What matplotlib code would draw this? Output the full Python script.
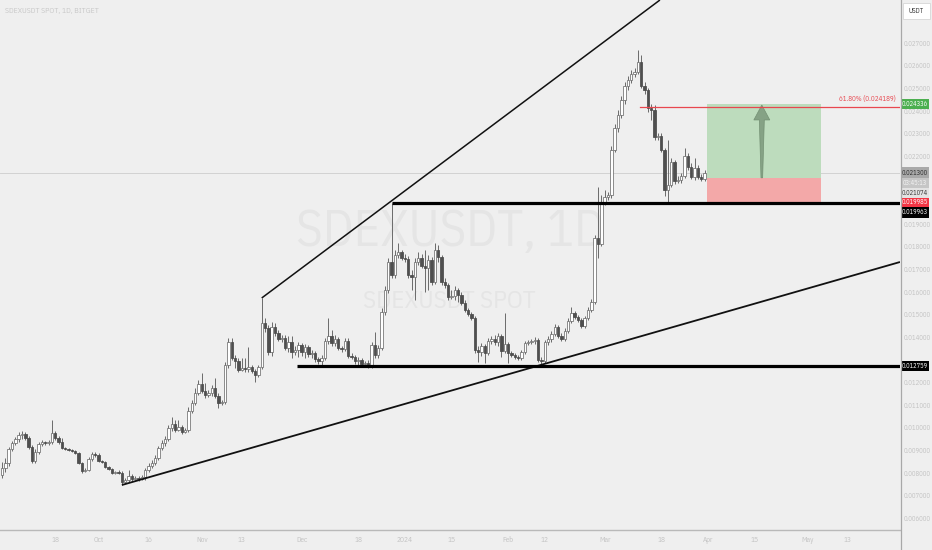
import matplotlib
matplotlib.use("Agg")
import matplotlib.pyplot as plt
import matplotlib.transforms as mtransforms
from matplotlib.patches import Rectangle, Polygon
from matplotlib.lines import Line2D

# ---------------------------------------------------------------- data
# SDEXUSDT daily candles, 2023-09-02 .. 2024-03-31 (prices in USDT)
first_open = 0.007942
close = [
    0.008251, 0.008472, 0.009091, 0.009356, 0.009533, 0.009710, 0.009754, 0.009577, 0.009180, 0.008561,
    0.008959, 0.009312, 0.009401, 0.009356, 0.009401, 0.009798, 0.009577, 0.009401, 0.009135, 0.009091,
    0.009047, 0.009003, 0.008914, 0.008472, 0.008119, 0.008163, 0.008649, 0.008870, 0.008826, 0.008561,
    0.008517, 0.008296, 0.008207, 0.008030, 0.008075, 0.008030, 0.007633, 0.007721, 0.007898, 0.007765,
    0.007809, 0.007765, 0.007854, 0.008163, 0.008340, 0.008472, 0.008693, 0.009135, 0.009356, 0.009533,
    0.010018, 0.010195, 0.009931, 0.010063, 0.009843, 0.009931, 0.010770, 0.011123, 0.011565, 0.011963,
    0.011654, 0.011477, 0.011565, 0.011786, 0.011433, 0.011123, 0.011168, 0.012803, 0.013819, 0.013112,
    0.012980, 0.012582, 0.012670, 0.012626, 0.012714, 0.012538, 0.012361, 0.012714, 0.014658, 0.014437,
    0.013378, 0.014482, 0.014216, 0.013951, 0.013995, 0.013553, 0.013819, 0.013378, 0.013466, 0.013686,
    0.013378, 0.013598, 0.013289, 0.013333, 0.013068, 0.012980, 0.013112, 0.013863, 0.014084, 0.013774,
    0.013951, 0.013553, 0.013510, 0.013863, 0.013201, 0.013157, 0.012980, 0.013024, 0.012847, 0.012891,
    0.012759, 0.013686, 0.013245, 0.013553, 0.015145, 0.016117, 0.017354, 0.016780, 0.017663, 0.017796,
    0.017530, 0.017486, 0.016780, 0.016692, 0.017354, 0.017530, 0.017177, 0.017088, 0.017442, 0.016471,
    0.017884, 0.017574, 0.016471, 0.016338, 0.015808, 0.015852, 0.016117, 0.015896, 0.015542, 0.015233,
    0.015056, 0.014879, 0.013466, 0.013378, 0.013642, 0.013333, 0.013863, 0.013951, 0.013819, 0.014084,
    0.013422, 0.013730, 0.013333, 0.013245, 0.013157, 0.013112, 0.013378, 0.013774, 0.013819, 0.013863,
    0.013907, 0.013024, 0.012980, 0.013819, 0.013951, 0.014172, 0.014482, 0.014084, 0.013951, 0.014305,
    0.014747, 0.015100, 0.014924, 0.014791, 0.014526, 0.014879, 0.015233, 0.015587, 0.018414, 0.018149,
    0.019961, 0.020227, 0.020314, 0.022303, 0.023275, 0.023849, 0.024512, 0.025131, 0.025396, 0.025661,
    0.025750, 0.026192, 0.025131, 0.024954, 0.024158, 0.024070, 0.022878, 0.022922, 0.022303, 0.020535,
    0.020756, 0.021773, 0.020933, 0.020977, 0.021154, 0.022038, 0.021552, 0.021110, 0.021508, 0.021110,
    0.021021, 0.021300,
]
high = [
    0.008517, 0.008693, 0.009180, 0.009445, 0.009622, 0.009843, 0.009887, 0.009843, 0.009666, 0.009268,
    0.009091, 0.009401, 0.009489, 0.009445, 0.009489, 0.010372, 0.009887, 0.009666, 0.009577, 0.009180,
    0.009135, 0.009091, 0.009047, 0.008959, 0.008517, 0.008251, 0.008738, 0.008959, 0.008959, 0.008914,
    0.008605, 0.008561, 0.008340, 0.008251, 0.008119, 0.008163, 0.008119, 0.007809, 0.008163, 0.007986,
    0.007898, 0.007898, 0.007942, 0.008251, 0.008472, 0.008605, 0.008826, 0.009224, 0.009489, 0.009666,
    0.010151, 0.010505, 0.010372, 0.010372, 0.010151, 0.010018, 0.010947, 0.011256, 0.011786, 0.012140,
    0.012449, 0.012007, 0.011698, 0.011919, 0.012228, 0.011565, 0.011256, 0.012936, 0.013995, 0.013995,
    0.013245, 0.013112, 0.013112, 0.013112, 0.013598, 0.012803, 0.012626, 0.012803, 0.015763, 0.014879,
    0.014570, 0.014703, 0.014658, 0.014349, 0.014128, 0.014128, 0.014084, 0.014084, 0.013642, 0.013819,
    0.013774, 0.013730, 0.013686, 0.013466, 0.013422, 0.013157, 0.013245, 0.013995, 0.014879, 0.014349,
    0.014128, 0.014040, 0.013642, 0.013995, 0.013995, 0.013333, 0.013245, 0.013157, 0.013112, 0.012980,
    0.013024, 0.013819, 0.014261, 0.013686, 0.015321, 0.016294, 0.017530, 0.019961, 0.017884, 0.018193,
    0.017884, 0.017707, 0.017619, 0.017001, 0.017530, 0.017796, 0.017707, 0.017884, 0.017663, 0.017574,
    0.018193, 0.018105, 0.017663, 0.016647, 0.016426, 0.016117, 0.016294, 0.016205, 0.016029, 0.015675,
    0.015321, 0.015145, 0.014968, 0.013642, 0.013774, 0.013730, 0.013995, 0.014084, 0.014128, 0.014216,
    0.014172, 0.015100, 0.013819, 0.013422, 0.013333, 0.013245, 0.013466, 0.013863, 0.013907, 0.013951,
    0.014040, 0.013995, 0.013157, 0.013907, 0.014084, 0.014305, 0.014614, 0.014570, 0.014216, 0.014437,
    0.014879, 0.015366, 0.015189, 0.015012, 0.014879, 0.014968, 0.015366, 0.015719, 0.018547, 0.020668,
    0.020314, 0.020535, 0.020446, 0.022480, 0.023452, 0.024070, 0.024689, 0.025308, 0.025573, 0.025838,
    0.025926, 0.026722, 0.026501, 0.025308, 0.025042, 0.024335, 0.024291, 0.023054, 0.023054, 0.022391,
    0.022745, 0.021949, 0.021861, 0.021154, 0.021286, 0.022391, 0.022170, 0.021728, 0.021949, 0.021640,
    0.021242, 0.021419,
]
low = [
    0.007809, 0.008075, 0.008340, 0.009003, 0.009268, 0.009401, 0.009533, 0.009489, 0.009091, 0.008472,
    0.008472, 0.008870, 0.009224, 0.009268, 0.009268, 0.009312, 0.009489, 0.009312, 0.009091, 0.009047,
    0.009003, 0.008959, 0.008870, 0.008428, 0.008030, 0.008075, 0.008119, 0.008561, 0.008738, 0.008517,
    0.008472, 0.008251, 0.008163, 0.007986, 0.007986, 0.007986, 0.007500, 0.007588, 0.007633, 0.007677,
    0.007721, 0.007677, 0.007721, 0.007721, 0.008075, 0.008251, 0.008384, 0.008605, 0.009047, 0.009224,
    0.009445, 0.009887, 0.009843, 0.009887, 0.009754, 0.009798, 0.009843, 0.010681, 0.011035, 0.011477,
    0.011565, 0.011344, 0.011389, 0.011433, 0.011344, 0.010902, 0.011035, 0.011079, 0.012670, 0.013024,
    0.012670, 0.012494, 0.012538, 0.012494, 0.012494, 0.012449, 0.012052, 0.012273, 0.012626, 0.014261,
    0.013245, 0.013201, 0.014084, 0.013863, 0.013819, 0.013466, 0.013378, 0.013112, 0.013245, 0.013157,
    0.013201, 0.013112, 0.013157, 0.013112, 0.012936, 0.012847, 0.012759, 0.013024, 0.013730, 0.013642,
    0.013642, 0.013466, 0.013378, 0.013422, 0.013112, 0.013068, 0.012847, 0.012759, 0.012714, 0.012759,
    0.012670, 0.012670, 0.013112, 0.013112, 0.013466, 0.015012, 0.015984, 0.016647, 0.016647, 0.017530,
    0.017442, 0.017354, 0.016647, 0.016117, 0.015675, 0.017221, 0.017088, 0.016029, 0.016117, 0.016338,
    0.016382, 0.017354, 0.016338, 0.016205, 0.015675, 0.015719, 0.015675, 0.015587, 0.015454, 0.015145,
    0.014968, 0.014791, 0.013333, 0.012936, 0.013201, 0.012891, 0.013245, 0.013730, 0.013686, 0.013642,
    0.013157, 0.013333, 0.012891, 0.013157, 0.013068, 0.013024, 0.013024, 0.013289, 0.013686, 0.013730,
    0.013730, 0.012936, 0.012847, 0.012891, 0.013686, 0.013819, 0.014084, 0.013995, 0.013863, 0.013863,
    0.014216, 0.014658, 0.014835, 0.014703, 0.014437, 0.014437, 0.014791, 0.015145, 0.015498, 0.017530,
    0.018061, 0.019873, 0.020094, 0.020182, 0.022214, 0.023098, 0.023717, 0.024335, 0.024954, 0.025263,
    0.025529, 0.025661, 0.025042, 0.024777, 0.023982, 0.023629, 0.022745, 0.022745, 0.022214, 0.020270,
    0.019961, 0.020668, 0.020800, 0.020844, 0.020844, 0.021065, 0.021419, 0.021021, 0.020977, 0.021021,
    0.020933, 0.020933,
]
opens = [first_open] + close[:-1]

# date axis labels (candle index from 2023-09-02)
date_tick_idx = [16, 29, 44, 60, 72, 90, 107, 121, 135, 152, 163, 181, 198, 212, 226, 242, 254]
date_tick_lbl = ["18", "Oct", "16", "Nov", "13", "Dec", "18", "2024", "15", "Feb", "12",
                 "Mar", "18", "Apr", "15", "May", "13"]

# price scale labels
price_ticks = [round(0.006 + 0.001 * k, 3) for k in range(22)]

# drawn levels
resistance = 0.019963
support = 0.012759
fib_618 = 0.024189
entry, target, stop = 0.021074, 0.024336, 0.019985
last_price = 0.021300

# ---------------------------------------------------------------- figure
BG = "#efefef"
FONT = ["IBM Plex Sans Condensed", "DejaVu Sans"]
plt.rcParams["font.family"] = FONT

W, H = 932, 550
fig = plt.figure(figsize=(W / 100, H / 100), dpi=100, facecolor=BG)
ax = fig.add_axes([0, 20 / H, 900 / W, 530 / H], facecolor=BG)
ymin, ymax = 0.005512, 0.028931
xmin, xmax = -0.6, 269.7
ax.set_xlim(xmin, xmax)
ax.set_ylim(ymin, ymax)
ax.set_axis_off()

# watermark
ax.text(0.5, 0.562, "SDEXUSDT, 1D", transform=ax.transAxes, ha="center", va="center",
        fontsize=36.5, color="#e5e5e5", zorder=0)
ax.text(0.4995, 0.432, "SDEXUSDT SPOT", transform=ax.transAxes, ha="center", va="center",
        fontsize=18, color="#e5e5e5", zorder=0)

# last price line
ax.axhline(last_price, color="#d2d2d2", lw=0.7, zorder=1)

# candles
n = len(close)
xs = list(range(n))
up_x, up_b, up_h, dn_x, dn_b, dn_h = [], [], [], [], [], []
min_body = 0.00003
for i in xs:
    o, c = opens[i], close[i]
    b, t = min(o, c), max(o, c)
    hgt = max(t - b, min_body)
    if c >= o:
        up_x.append(i); up_b.append(b); up_h.append(hgt)
    else:
        dn_x.append(i); dn_b.append(b); dn_h.append(hgt)
ax.vlines(xs, low, high, color="#6a6a6a", lw=0.7, zorder=2)
ax.bar(up_x, up_h, bottom=up_b, width=0.72, color="#ffffff", edgecolor="#6e6e6e",
       linewidth=0.55, zorder=3)
ax.bar(dn_x, dn_h, bottom=dn_b, width=0.72, color="#4f4f4f", edgecolor="#4a4a4a",
       linewidth=0.55, zorder=3)

# long position tool
pos_x0, pos_x1 = 211.7, 245.9
ax.add_patch(Rectangle((pos_x0, entry), pos_x1 - pos_x0, target - entry,
                       facecolor="#bddcbd", edgecolor="none", zorder=1.5))
ax.add_patch(Rectangle((pos_x0, stop), pos_x1 - pos_x0, entry - stop,
                       facecolor="#f3a8a8", edgecolor="none", zorder=1.5))

# arrow inside the target zone
ax_c = 228.2
arrow = Polygon([
    (ax_c - 0.25, entry), (ax_c + 0.25, entry),
    (ax_c + 0.75, 0.023630), (ax_c + 2.4, 0.023630),
    (ax_c, 0.024290),
    (ax_c - 2.4, 0.023630), (ax_c - 0.75, 0.023630),
], closed=True, facecolor="#7f9c7f", edgecolor="#6f8c6f", lw=0.5, alpha=0.9, zorder=4)
ax.add_patch(arrow)

# trend lines
ax.plot([78, 197.6], [0.015763, ymax], color="#111111", lw=1.1, zorder=5,
        solid_capstyle="butt")
ax.plot([36, xmax], [0.007500, 0.017354], color="#111111", lw=1.3, zorder=5,
        solid_capstyle="butt")
# horizontal levels
ax.plot([117, xmax], [resistance, resistance], color="#000000", lw=2.3, zorder=5,
        solid_capstyle="butt")
ax.plot([88.6, xmax], [support, support], color="#000000", lw=2.3, zorder=5,
        solid_capstyle="butt")
# fibonacci 61.8%
ax.plot([191.6, xmax], [fib_618, fib_618], color="#e8474f", lw=0.9, zorder=5)
ax.text(0.9955, fib_618 + 0.00017, "61.80% (0.024189)",
        transform=mtransforms.blended_transform_factory(ax.transAxes, ax.transData),
        ha="right", va="bottom", fontsize=5, color="#e8474f", zorder=6)

# header
fig.text(5 / W, 1 - 11 / H, "SDEXUSDT SPOT, 1D, BITGET", ha="left", va="center",
         fontsize=5.6, color="#c9c9c9")

# date labels
tr = mtransforms.blended_transform_factory(ax.transData, fig.transFigure)
for xi, lb in zip(date_tick_idx, date_tick_lbl):
    ax.text(xi, 10 / H, lb, transform=tr, ha="center", va="center", fontsize=5.3,
            color="#c3c3c3", clip_on=False)

# separators
fig.add_artist(Line2D([0, 900 / W], [20.5 / H, 20.5 / H], color="#b9b9b9", lw=1.0))
fig.add_artist(Line2D([900.5 / W, 900.5 / W], [0, 1], color="#a8a8a8", lw=0.9))

# ---------------------------------------------------------------- price scale
ps = fig.add_axes([901 / W, 20 / H, 31 / W, 530 / H], facecolor=BG)
ps.set_xlim(0, 1)
ps.set_ylim(ymin, ymax)
ps.set_axis_off()

px = (ymax - ymin) / 530.0  # one pixel in price units

tags = [
    (target, "0.024336", "#4caf50", "#ffffff", 10.5),
    (last_price, f"{last_price:.6f}", "#a9a9a9", "#2b2b2b", 10.5),
    (last_price - 10.5 * px, "03:45:13", "#c6c6c6", "#f4f4f4", 10.5),
    (last_price - 20.5 * px, f"{entry:.6f}", "#e3e3e3", "#333333", 9.5),
    (stop, f"{stop:.6f}", "#f23645", "#ffffff", 9.5),
    (stop - 10 * px, f"{resistance:.6f}", "#000000", "#ffffff", 10.5),
    (support, f"{support:.6f}", "#000000", "#ffffff", 10.5),
]

# regular scale labels, except where a tag sits on top of them
for v in price_ticks:
    if any(abs(v - t[0]) < 7 * px for t in tags):
        continue
    ps.text(0.1, v, f"{v:.6f}", ha="left", va="center", fontsize=4.9, color="#c2c2c2",
            zorder=1)

for y, text, bg, fg, h in tags:
    ps.add_patch(Rectangle((0.0, y - h * px / 2), 0.9, h * px, facecolor=bg,
                           edgecolor="none", zorder=3))
    ps.text(0.45, y, text, ha="center", va="center", fontsize=4.7, color=fg, zorder=4)

# currency box
ps.add_patch(Rectangle((0.06, ymax - 19 * px), 0.86, 16 * px, facecolor="#ffffff",
                       edgecolor="#d6d6d6", lw=0.6, zorder=3))
ps.text(0.49, ymax - 11 * px, "USDT", ha="center", va="center", fontsize=4.9,
        color="#333333", zorder=4)

fig.savefig("out.png", dpi=100, facecolor=BG)
